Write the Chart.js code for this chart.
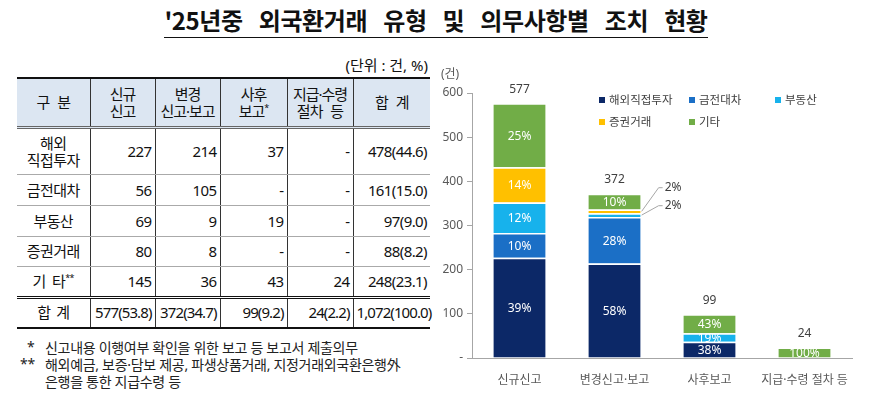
<!DOCTYPE html>
<html>
<head>
<meta charset="utf-8">
<script src="https://cdn.jsdelivr.net/npm/chart.js@4.4.1/dist/chart.umd.min.js"></script>
<style>
body { margin: 0; width: 872px; height: 415px; background: #fff; position: relative; overflow: hidden;
       font-family: "Noto Sans", "Noto Sans CJK KR", sans-serif; color: #111; }
#title { position: absolute; left: 0; top: 2px; width: 872px; text-align: center; font-size: 24px; font-weight: 700;
         word-spacing: 11px; letter-spacing: -0.4px; font-family: "Noto Sans CJK KR", sans-serif; }
#title span { border-bottom: 1.5px solid #111; padding-bottom: 0; }
#unit { position: absolute; right: 444px; top: 54px; font-size: 15px; }
#tbl { position: absolute; left: 17px; top: 77px; width: 413px; border-collapse: collapse; table-layout: fixed;
       font-size: 15px; letter-spacing: -0.6px; }
#tbl td, #tbl th { border-left: 1px solid #333; border-right: 1px solid #333; padding: 0 3px; line-height: 17px; }
#tbl tr > :first-child { border-left: none; }
#tbl tr > :last-child { border-right: none; }
#tbl th { background: #dce6f2; font-weight: 400; height: 47px; border-top: 2px solid #111; border-bottom: 3px double #666;
          white-space: nowrap; padding: 0; letter-spacing: -1px; word-spacing: 5px; }
#tbl td { text-align: right; border-bottom: 1px solid #aaa; white-space: nowrap; }
#tbl td:first-child { text-align: center; word-spacing: 3px; }
#tbl tr.total td { border-top: 3px double #111; border-bottom: 2px solid #111; letter-spacing: -0.9px; }
sup { font-size: 9px; line-height: 0; }
.note { position: absolute; font-size: 14px; color: #222; letter-spacing: -0.3px; }
#wrap { position: absolute; left: 432px; top: 55px; width: 440px; height: 345px; }
#legend { position: absolute; left: 599px; top: 91px; width: 260px; font-size: 11.5px; color: #404040; }
#legend div { position: absolute; white-space: nowrap; }
#legend i { display: inline-block; width: 6px; height: 6px; margin-right: 4px; vertical-align: 1px; }
</style>
</head>
<body>
<div id="title"><span>'25년중 외국환거래 유형 및 의무사항별 조치 현황</span></div>
<div id="unit">(단위 : 건, %)</div>
<table id="tbl"></table>
<div class="note" style="left:27px;top:337px">*</div>
<div class="note" style="left:45px;top:337px">신고내용 이행여부 확인을 위한 보고 등 보고서 제출의무</div>
<div class="note" style="left:20px;top:354px">**</div>
<div class="note" style="left:45px;top:354px">해외예금, 보증·담보 제공, 파생상품거래, 지정거래외국환은행外</div>
<div class="note" style="left:45px;top:371px">은행을 통한 지급수령 등</div>
<div id="wrap"><canvas id="chart" width="440" height="345"></canvas></div>
<div id="legend"></div>
<script>
// 데이터
var categories = ['신규신고', '변경신고·보고', '사후보고', '지급·수령 절차 등'];
var tableHeads = ['구 분', '신규<br>신고', '변경<br>신고·보고', '사후<br>보고<sup>*</sup>', '지급·수령<br>절차 등', '합 계'];
var seriesNames = ['해외직접투자', '금전대차', '부동산', '증권거래', '기타'];
var rowLabels = ['해외<br>직접투자', '금전대차', '부동산', '증권거래', '기 타<sup>**</sup>'];

var fdi = [227, 214, 37, null];
var loan = [56, 105, null, null];
var realty = [69, 9, 19, null];
var securities = [80, 8, null, null];
var others = [145, 36, 43, 24];

// 그래프 안의 비중 표시 (그림 그대로)
var fdiPct = ['39%', '58%', '38%', null];
var loanPct = ['10%', '28%', null, null];
var realtyPct = ['12%', '2%', '19%', null];
var securitiesPct = ['14%', '2%', null, null];
var othersPct = ['25%', '10%', '43%', '100%'];

var yMax = 600;
var yStep = 100;

var series = [fdi, loan, realty, securities, others];
var pctLabels = [fdiPct, loanPct, realtyPct, securitiesPct, othersPct];
var colors = ['#0c2867', '#1b6fc6', '#17b2ec', '#ffc000', '#71ad47'];
var chartFont = '"Noto Sans", "Noto Sans CJK KR", sans-serif';

// 표 만들기
var colTotals = categories.map(function (c, j) {
    return series.reduce(function (s, arr) { return s + (arr[j] || 0); }, 0);
});
var grand = colTotals.reduce(function (a, b) { return a + b; }, 0);
var widths = [73, 65, 65, 67, 66, 77];
var rowHeights = [47, 31, 31, 30, 31];

var html = '<colgroup>' + widths.map(function (w) { return '<col style="width:' + w + 'px">'; }).join('') + '</colgroup>';
html += '<tr>' + tableHeads.map(function (h) { return '<th>' + h + '</th>'; }).join('') + '</tr>';
series.forEach(function (arr, i) {
    var sum = arr.reduce(function (s, v) { return s + (v || 0); }, 0);
    html += '<tr style="height:' + rowHeights[i] + 'px"><td>' + rowLabels[i] + '</td>';
    arr.forEach(function (v) { html += '<td>' + (v == null ? '-' : v) + '</td>'; });
    html += '<td>' + sum + '(' + (sum / grand * 100).toFixed(1) + ')</td></tr>';
});
html += '<tr class="total" style="height:30px"><td>합 계</td>';
colTotals.forEach(function (t) { html += '<td>' + t + '(' + (t / grand * 100).toFixed(1) + ')</td>'; });
html += '<td>' + grand.toLocaleString('en-US') + '(100.0)</td></tr>';
document.getElementById('tbl').innerHTML = html;

// 범례
var legendPos = [[0, 0], [90, 0], [176, 0], [0, 22], [90, 22]];
document.getElementById('legend').innerHTML = seriesNames.map(function (n, i) {
    return '<div style="left:' + legendPos[i][0] + 'px;top:' + legendPos[i][1] + 'px"><i style="background:' + colors[i] + '"></i>' + n + '</div>';
}).join('');

// 막대 안 라벨, 합계, 지시선
var barLabels = {
    id: 'barLabels',
    afterDatasetsDraw: function (chart) {
        var ctx = chart.ctx;
        ctx.save();
        ctx.font = '12px ' + chartFont;
        ctx.textAlign = 'center';
        ctx.textBaseline = 'middle';
        var outside = {};
        chart.data.datasets.forEach(function (ds, i) {
            var meta = chart.getDatasetMeta(i);
            meta.data.forEach(function (bar, j) {
                var txt = pctLabels[i][j];
                if (!txt || ds.data[j] == null) return;
                var h = Math.abs(bar.base - bar.y);
                if (h < 6) {
                    (outside[j] = outside[j] || []).push({ bar: bar, txt: txt });
                    return;
                }
                ctx.fillStyle = '#ffffff';
                ctx.fillText(txt, bar.x, (bar.y + bar.base) / 2 + 1);
            });
        });

        var y = chart.scales.y;
        var x = chart.scales.x;
        colTotals.forEach(function (t, j) {
            var top = y.getPixelForValue(t);
            ctx.fillStyle = '#404040';
            ctx.fillText(t, x.getPixelForValue(j), top - 14);

            var list = outside[j];
            if (!list) return;
            list.sort(function (a, b) { return a.bar.y - b.bar.y; });
            list.forEach(function (o, k) {
                var right = o.bar.x + o.bar.width / 2;
                var segY = (o.bar.y + o.bar.base) / 2;
                var ly = top - 6 + 18 * k;
                ctx.strokeStyle = '#a6a6a6';
                ctx.lineWidth = 1;
                ctx.beginPath();
                ctx.moveTo(right + 1, segY);
                ctx.lineTo(right + 18, ly);
                ctx.lineTo(right + 22, ly);
                ctx.stroke();
                ctx.fillStyle = '#404040';
                ctx.textAlign = 'left';
                ctx.fillText(o.txt, right + 24, ly);
                ctx.textAlign = 'center';
            });
        });

        ctx.fillStyle = '#595959';
        ctx.fillText('(건)', chart.chartArea.left - 22, y.getPixelForValue(yMax) - 18);
        ctx.restore();
    }
};

var ctx = document.getElementById('chart').getContext('2d');
var chart = new Chart(ctx, {
    type: 'bar',
    data: {
        labels: categories,
        datasets: series.map(function (arr, i) {
            return {
                label: seriesNames[i],
                data: arr,
                backgroundColor: colors[i],
                borderColor: '#ffffff',
                borderWidth: { top: 1.5, right: 0, bottom: 0, left: 0 },
                borderSkipped: false,
                barPercentage: 0.55,
                categoryPercentage: 1
            };
        })
    },
    options: {
        responsive: false,
        animation: false,
        layout: { padding: { top: 38, right: 20, left: 0, bottom: 0 } },
        plugins: { legend: { display: false }, tooltip: { enabled: false } },
        scales: {
            x: {
                stacked: true,
                grid: { display: false },
                border: { color: '#a6a6a6' },
                ticks: { color: '#595959', font: { size: 12, family: chartFont }, padding: 7,
                         maxRotation: 0, minRotation: 0, autoSkip: false },
                afterFit: function (s) { s.height = 42; }
            },
            y: {
                stacked: true,
                min: 0,
                max: yMax,
                grid: { drawOnChartArea: false, drawTicks: true, tickLength: 5, color: '#a6a6a6' },
                border: { color: '#a6a6a6' },
                ticks: {
                    stepSize: yStep,
                    color: '#595959',
                    font: { size: 12, family: chartFont },
                    padding: 4,
                    callback: function (v) { return v === 0 ? '-' : v; }
                },
                afterFit: function (s) { s.width = 40; }
            }
        }
    },
    plugins: [barLabels]
});
</script>
</body>
</html>
